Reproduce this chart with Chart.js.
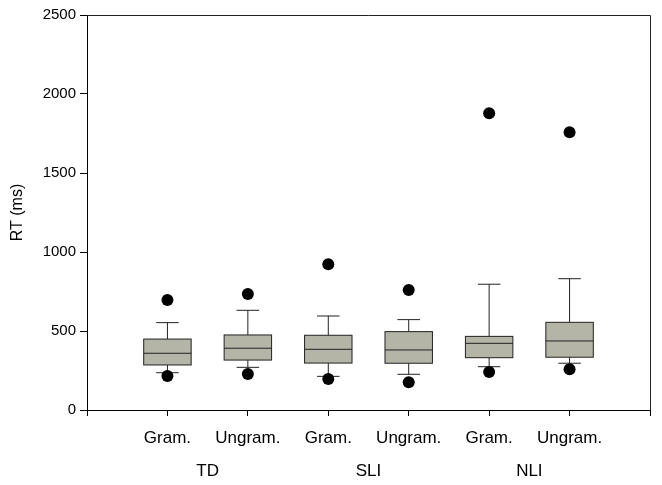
<!DOCTYPE html>
<html><head><meta charset="utf-8">
<script src="https://cdn.jsdelivr.net/npm/chart.js@4"></script>
<style>html,body{margin:0;padding:0;background:#fff}</style>
</head><body>
<canvas id="c" width="662" height="485"></canvas>
<script>
const categories = ['Gram.','Ungram.','Gram.','Ungram.','Gram.','Ungram.'];
const groups = ['TD','SLI','NLI'];
const whiskerLow = [236,270,213,226,274,296];
const q1 = [285,316,297,296,331,334];
const median = [359,391,384,380,422,437];
const q3 = [449,475,473,496,466,555];
const whiskerHigh = [553,631,595,572,796,831];
const outliersLow = [215,228,196,175,241,258];
const outliersHigh = [696,734,922,759,1878,1758];
const yTicks = [0,500,1000,1500,2000,2500];

const FONT = 'Liberation Sans, Arial, sans-serif';
const BOX_W = 0.59, CAP_W = 0.28;

const boxPlugin = {
  id: 'boxes',
  beforeDatasetsDraw(chart) {
    const ctx = chart.ctx, xs = chart.scales.x, ys = chart.scales.y;
    const a = chart.chartArea;
    ctx.save();
    ctx.strokeStyle = '#222';
    ctx.lineWidth = 1;
    ctx.beginPath();
    ctx.moveTo(a.left, a.top + 0.5); ctx.lineTo(a.right + 0.5, a.top + 0.5); ctx.lineTo(a.right + 0.5, a.bottom);
    ctx.stroke();
    categories.forEach((c, i) => {
      const xv = i + 1;
      const xl = xs.getPixelForValue(xv - BOX_W/2), xr = xs.getPixelForValue(xv + BOX_W/2);
      const xc = xs.getPixelForValue(xv);
      const cl = xs.getPixelForValue(xv - CAP_W/2), cr = xs.getPixelForValue(xv + CAP_W/2);
      const yq1 = ys.getPixelForValue(q1[i]), yq3 = ys.getPixelForValue(q3[i]);
      const ym = ys.getPixelForValue(median[i]);
      const ywl = ys.getPixelForValue(whiskerLow[i]), ywh = ys.getPixelForValue(whiskerHigh[i]);
      ctx.strokeStyle = '#222';
      ctx.lineWidth = 1;
      ctx.beginPath();
      ctx.moveTo(xc, yq3); ctx.lineTo(xc, ywh);
      ctx.moveTo(cl, ywh); ctx.lineTo(cr, ywh);
      ctx.moveTo(xc, yq1); ctx.lineTo(xc, ywl);
      ctx.moveTo(cl, ywl); ctx.lineTo(cr, ywl);
      ctx.stroke();
      ctx.fillStyle = '#b4b4a7';
      ctx.fillRect(xl, yq3, xr - xl, yq1 - yq3);
      ctx.strokeRect(xl, yq3, xr - xl, yq1 - yq3);
      ctx.beginPath();
      ctx.moveTo(xl, ym); ctx.lineTo(xr, ym);
      ctx.stroke();
    });
    ctx.restore();
  }
};

const outlierData = [];
categories.forEach((c, i) => {
  outlierData.push({x: i + 1, y: outliersLow[i]});
  outlierData.push({x: i + 1, y: outliersHigh[i]});
});

new Chart(document.getElementById('c'), {
  type: 'scatter',
  data: { datasets: [{
    data: outlierData,
    pointRadius: 6,
    pointBackgroundColor: '#000',
    pointBorderColor: '#000',
    pointBorderWidth: 0
  }]},
  options: {
    responsive: false,
    animation: false,
    layout: { padding: { top: 15, right: 5, left: 0, bottom: 0 } },
    plugins: { legend: { display: false }, tooltip: { enabled: false } },
    scales: {
      x: {
        type: 'linear', position: 'bottom', min: 0, max: 7,
        afterBuildTicks: s => { s.ticks = [0,1,2,3,4,5,6,7].map(v => ({value: v})); },
        afterFit: s => { s.height = 40; },
        ticks: {
          autoSkip: false, maxRotation: 0,
          callback: v => categories[v - 1] || '',
          color: '#000', font: { family: FONT, size: 17 }, padding: 12
        },
        grid: { drawOnChartArea: false, drawTicks: true, tickLength: 6, color: '#000' },
        border: { color: '#000', width: 1 }
      },
      x2: {
        type: 'linear', position: 'bottom', min: 0, max: 7,
        afterBuildTicks: s => { s.ticks = [1.5,3.5,5.5].map(v => ({value: v})); },
        afterFit: s => { s.height = 35; },
        ticks: {
          autoSkip: false, maxRotation: 0,
          callback: (v, i) => groups[i],
          color: '#000', font: { family: FONT, size: 17 }, padding: 3
        },
        grid: { display: false },
        border: { display: false }
      },
      y: {
        min: 0, max: 2500,
        afterBuildTicks: s => { s.ticks = yTicks.map(v => ({value: v})); },
        afterFit: s => { s.width = 87; },
        ticks: { color: '#000', font: { family: FONT, size: 15 }, padding: 4, callback: v => String(v) },
        grid: { drawOnChartArea: false, drawTicks: true, tickLength: 7, color: '#000' },
        border: { color: '#000', width: 1 },
        title: { display: true, text: 'RT (ms)', color: '#000', font: { family: FONT, size: 16 }, padding: { top: 8, bottom: 4 } }
      }
    }
  },
  plugins: [boxPlugin]
});
</script>
</body></html>
